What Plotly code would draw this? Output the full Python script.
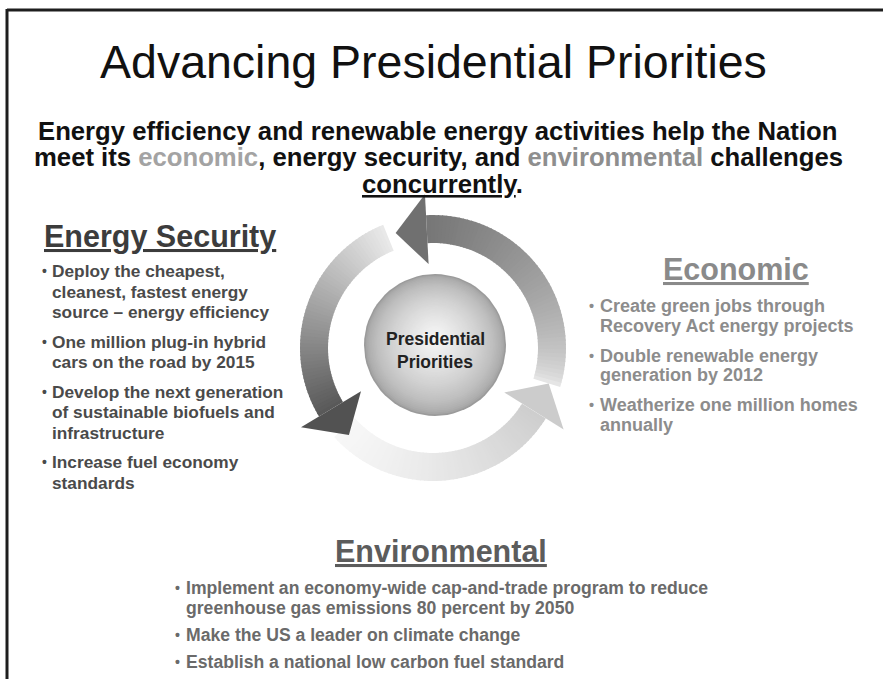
import math
import plotly.graph_objects as go

# ---- 文本数据 ----
title_text = "Advancing Presidential Priorities"
subtitle_lines = [
    "Energy efficiency and renewable energy activities help the Nation",
    'meet its <span style="color:#a3a3a3">economic</span>, energy security, and '
    '<span style="color:#8e8e8e">environmental</span> challenges',
    '<span style="text-decoration:underline">concurrently</span>.',
]
center_lines = ["Presidential", "Priorities"]

security_heading = "Energy Security"
security_bullets = [
    ["Deploy the cheapest,", "cleanest, fastest energy", "source – energy efficiency"],
    ["One million plug-in hybrid", "cars on the road by 2015"],
    ["Develop the next generation", "of sustainable biofuels and", "infrastructure"],
    ["Increase fuel economy", "standards"],
]

economic_heading = "Economic"
economic_bullets = [
    ["Create green jobs through", "Recovery Act energy projects"],
    ["Double renewable energy", "generation by 2012"],
    ["Weatherize one million homes", "annually"],
]

environmental_heading = "Environmental"
environmental_bullets = [
    ["Implement an economy-wide cap-and-trade program to reduce",
     "greenhouse gas emissions 80 percent by 2050"],
    ["Make the US a leader on climate change"],
    ["Establish a national low carbon fuel standard"],
]

W, H = 883, 679
FONT = "Liberation Sans, Arial, sans-serif"
CX, CY = 433, 348          # 圆环中心（像素）
R_IN, R_OUT = 105, 133     # 圆环内外半径


def gray(v):
    return f"rgb({v},{v},{v})"


def polar(r, deg):
    a = math.radians(deg)
    return CX + r * math.cos(a), CY - r * math.sin(a)


def add_poly(fig, pts, color):
    xs = [p[0] for p in pts] + [pts[0][0]]
    ys = [p[1] for p in pts] + [pts[0][1]]
    fig.add_trace(go.Scatter(
        x=xs, y=ys, mode='lines', fill='toself',
        fillcolor=color, line=dict(width=0, color=color),
        hoverinfo='skip', showlegend=False
    ))


fig = go.Figure()

# ---- 三个环形箭头（渐变） ----
arrows = [
    dict(tail=-17, base=93, tip=108, g_tail=238, g_head=118, gamma=0.55, g_tip=112),
    dict(tail=112, base=211, tip=226, g_tail=234, g_head=88, gamma=1.0, g_tip=82),
    dict(tail=222, base=328, tip=343, g_tail=247, g_head=206, gamma=1.3, g_tip=204),
]
N = 60
for arr in arrows:
    span = arr['base'] - arr['tail']
    for k in range(N):
        a0 = arr['tail'] + span * k / N
        a1 = min(arr['tail'] + span * (k + 1) / N + 0.5, arr['base'])
        t = (k + 0.5) / N
        g = round(arr['g_tail'] + (arr['g_head'] - arr['g_tail']) * t ** arr['gamma'])
        outer = [polar(R_OUT, a0 + (a1 - a0) * j / 4) for j in range(5)]
        inner = [polar(R_IN, a1 - (a1 - a0) * j / 4) for j in range(5)]
        add_poly(fig, outer + inner, gray(g))

for arr in arrows:
    head = [polar(154, arr['base']), polar(121, arr['tip']), polar(84, arr['base'])]
    add_poly(fig, head, gray(arr['g_tip']))

# ---- 中心球体（径向渐变） ----
M = 45
for k in range(M):
    t = k / M
    r = 71 * (1 - t)
    g = round(155 + (247 - 155) * t ** 0.55)
    cy = CY - 3 - 8 * t
    pts = [(CX + 2 + r * math.cos(2 * math.pi * j / 72), cy - r * math.sin(2 * math.pi * j / 72))
           for j in range(72)]
    xs = [p[0] for p in pts] + [pts[0][0]]
    ys = [p[1] for p in pts] + [pts[0][1]]
    fig.add_trace(go.Scatter(
        x=xs, y=ys, mode='lines', fill='toself', fillcolor=gray(g),
        line=dict(width=0, color=gray(g)), hoverinfo='skip', showlegend=False
    ))

annotations = []


def add_text(x, y, text, size, color, bold=False, xanchor='left', under=False):
    annotations.append(dict(
        x=x, y=y, xref='x', yref='y', text=text, showarrow=False,
        xanchor=xanchor, yanchor='middle',
        font=dict(family=FONT, size=size, color=color,
                  weight='bold' if bold else 'normal',
                  lineposition='under' if under else 'none')
    ))


def add_bullets(groups, x_bullet, x_text, y0, step, gap, size, color):
    y = y0
    for group in groups:
        add_text(x_bullet, y, "•", size * 0.8, color, bold=True)
        for line in group:
            add_text(x_text, y, line, size, color, bold=True)
            y += step
        y += gap


# 标题
add_text(433, 62, title_text, 46.5, '#111111', xanchor='center')
sub_pos = [(437, 131), (438, 157), (442, 184)]
for (x, y), line in zip(sub_pos, subtitle_lines):
    add_text(x, y, line, 25.7, '#111111', bold=True, xanchor='center')

# 中心文字
add_text(435, 339, center_lines[0], 17.5, '#222222', bold=True, xanchor='center')
add_text(435, 362, center_lines[1], 17.5, '#222222', bold=True, xanchor='center')

# 左侧：Energy Security
add_text(160, 236, security_heading, 30.5, '#3c3c3c', bold=True, xanchor='center', under=True)
add_bullets(security_bullets, 40, 50, 271, 20.5, 9, 17.3, '#4a4a4a')

# 右侧：Economic
add_text(736, 269, economic_heading, 30.5, '#8a8a8a', bold=True, xanchor='center', under=True)
add_bullets(economic_bullets, 587, 598, 306, 19.5, 10.5, 18, '#8c8c8c')

# 底部：Environmental
add_text(441, 551, environmental_heading, 30.5, '#5c5c5c', bold=True, xanchor='center', under=True)
add_bullets(environmental_bullets, 173, 184, 588, 19.5, 7.5, 17.6, '#6a6a6a')

fig.update_layout(
    width=W, height=H,
    margin=dict(l=0, r=0, t=0, b=0),
    paper_bgcolor='white', plot_bgcolor='white',
    xaxis=dict(range=[0, W], visible=False, fixedrange=True),
    yaxis=dict(range=[H, 0], visible=False, fixedrange=True),
    showlegend=False,
    hovermode=False,
    annotations=annotations,
    shapes=[
        dict(type='line', xref='x', yref='y', x0=7, y0=10, x1=W, y1=10,
             line=dict(color='#1e1e1e', width=3)),
        dict(type='line', xref='x', yref='y', x0=7, y0=9, x1=7, y1=H,
             line=dict(color='#1e1e1e', width=3)),
    ],
)

# 去掉页面默认边距，使图表与窗口对齐
fig.write_html("out.html", config={'displayModeBar': False},
               post_script="document.body.style.margin='0';")
